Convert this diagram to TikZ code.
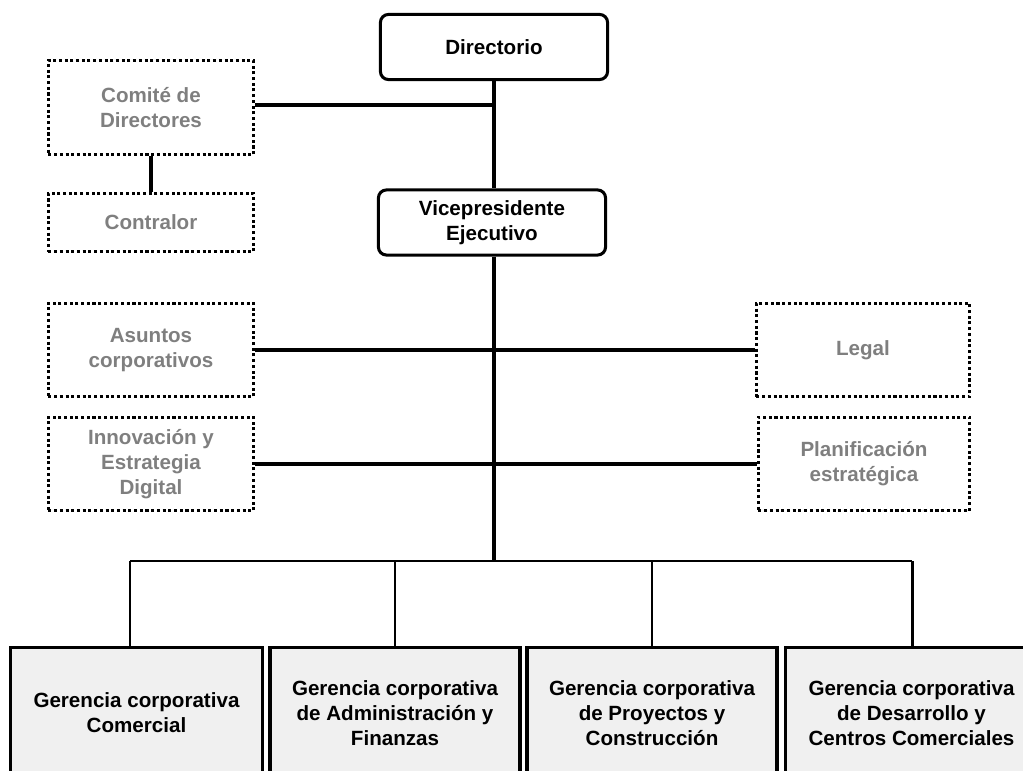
\documentclass[tikz,border=0pt]{standalone}
\usepackage{fontspec}
\setmainfont{Liberation Sans}
\usetikzlibrary{calc}

\definecolor{boxgray}{HTML}{F0F0F0}
\definecolor{txtgray}{HTML}{7F7F7F}

\tikzset{
	orgtext/.style={align=center, font=\bfseries\fontsize{15.5pt}{19pt}\selectfont},
	mainbox/.style={orgtext, draw=black, line width=2.3pt, rounded corners=6pt,
		minimum width=171pt, minimum height=49pt, inner sep=0pt},
	staffbox/.style={orgtext, draw=black, dotted, line width=2.3pt, text=txtgray,
		minimum width=154.5pt, inner sep=0pt},
	gerbox/.style={orgtext, draw=black, fill=boxgray, line width=2.6pt,
		minimum width=188pt, minimum height=99pt, inner sep=0pt},
	link/.style={draw=black, line width=2.3pt},
	sublink/.style={draw=black, line width=2.2pt}
}

\begin{document}
\begin{tikzpicture}[scale=0.2646]
	\useasboundingbox (0,0) rectangle (102.3,-77.1);
	% top
	\node [mainbox] (dir) at (49.4,-4.7) {Directorio};
	\node [mainbox] (vp) at (49.2,-22.25) {Vicepresidente\\Ejecutivo};
	\node [staffbox, minimum height=71pt] (comite) at (15.1,-10.75) {Comité de\\Directores};
	\node [staffbox, minimum height=44pt] (contralor) at (15.1,-22.25) {Contralor};
	% staff
	\node [staffbox, minimum height=70.5pt] (asuntos) at (15.1,-35.0) {Asuntos\\corporativos};
	\node [staffbox, minimum height=70.5pt, minimum width=160.5pt] (legal) at (86.3,-35.0) {Legal};
	\node [staffbox, minimum height=70.5pt] (innov) at (15.1,-46.4) {Innovación  y\\Estrategia\\Digital};
	\node [staffbox, minimum height=70.5pt, minimum width=159pt] (plan) at (86.4,-46.4) {Planificación\\estratégica};
	% gerencias
	\node [gerbox, minimum width=190pt] (g1) at (13.65,-71.3) {Gerencia corporativa\\Comercial};
	\node [gerbox] (g2) at (39.5,-71.3) {Gerencia corporativa\\de Administración  y\\Finanzas};
	\node [gerbox] (g3) at (65.2,-71.3) {Gerencia corporativa\\de Proyectos y\\Construcción};
	\node [gerbox, minimum width=190pt] (g4) at (91.15,-71.3) {Gerencia corporativa\\de Desarrollo y\\Centros Comerciales};
	\coordinate (bus) at (49.4,-56.1);
	\coordinate (b1) at (13.0,-56.1);
	\coordinate (b4) at (91.2,-56.1);
	% lines
	\draw [link] (dir.south) -- (dir.south |- vp.north);
	\draw [link] (comite.east |- 0,-10.5) -- (dir.south |- 0,-10.5);
	\draw [link] (comite.south) -- (contralor.north);
	\draw [link] (dir.south |- vp.south) -- (bus);
	\draw [link] (asuntos.east) -- (legal.west);
	\draw [link] (innov.east) -- (plan.west);
	\draw [sublink] (b1) -- (b4);
	\draw [sublink] (b1) -- (b1 |- g1.north);
	\draw [sublink] (g2.north |- bus) -- (g2.north);
	\draw [sublink] (g3.north |- bus) -- (g3.north);
	\draw [sublink] (b4) -- (b4 |- g4.north);
\end{tikzpicture}
\end{document}
